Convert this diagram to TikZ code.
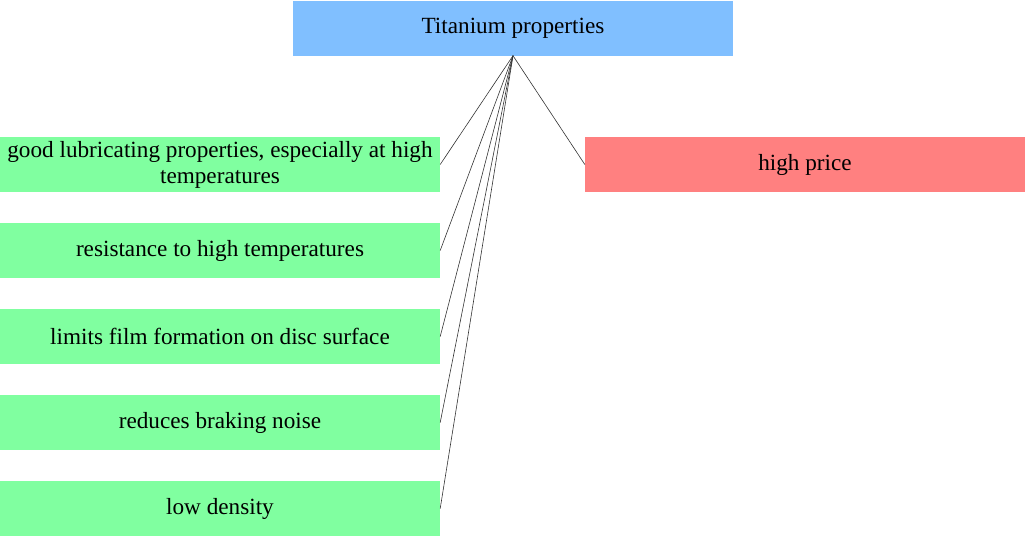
\documentclass[tikz,border=0pt]{standalone}
\usepackage{fontspec}
\setmainfont{Liberation Serif}
\usetikzlibrary{positioning}

\definecolor{rootblue}{RGB}{128,191,255}
\definecolor{progreen}{RGB}{128,255,160}
\definecolor{conred}{RGB}{255,128,128}

\tikzset{
  propbox/.style={minimum width=440pt,minimum height=55pt,inner sep=0pt,
    align=center,font=\fontsize{23.2}{26}\selectfont},
  rootbox/.style={propbox,fill=rootblue},
  probox/.style={propbox,fill=progreen},
  conbox/.style={propbox,fill=conred},
  link/.style={draw=black!80,line width=0.6pt}
}

\begin{document}
\begin{tikzpicture}[x=1pt,y=1pt,yscale=-1,xscale=1]
\useasboundingbox (0,0) rectangle (1025,538);

%Root
\node [rootbox] (root) at (513,28) {Titanium properties};

%Pros
\node [probox] (lub) at (220,164.5) {good lubricating properties, especially at high\\temperatures};
\node [probox] (heat) at (220,250.5) {resistance to high temperatures};
\node [probox] (film) at (220,336.5) {limits film formation on disc surface};
\node [probox] (noise) at (220,422.5) {reduces braking noise};
\node [probox] (dens) at (220,508.5) {low density};

%Cons
\node [conbox] (price) at (805,164.5) {high price};

%Links
\foreach \n in {lub,heat,film,noise,dens}
  \draw [link] (root.south) -- (\n.east);
\draw [link] (root.south) -- (price.west);

\end{tikzpicture}
\end{document}
